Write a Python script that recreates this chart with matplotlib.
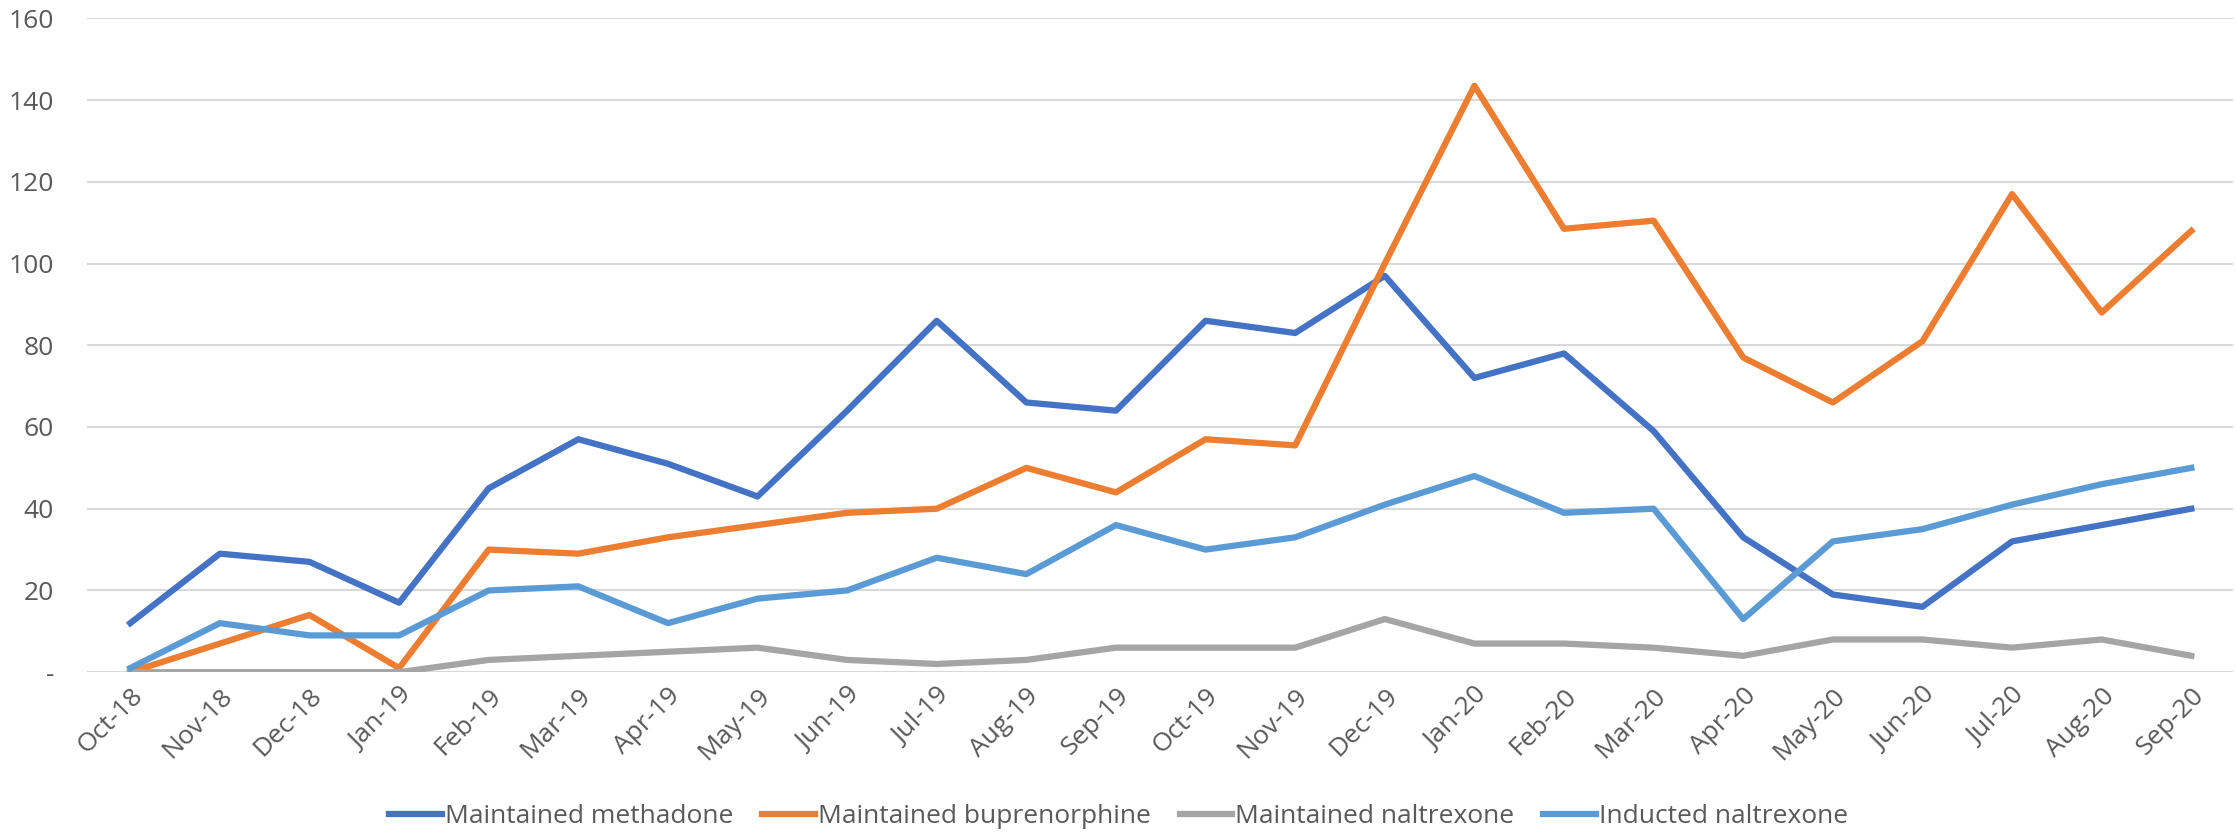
import matplotlib.pyplot as plt

# data
months = ['Oct-18', 'Nov-18', 'Dec-18', 'Jan-19', 'Feb-19', 'Mar-19', 'Apr-19', 'May-19',
          'Jun-19', 'Jul-19', 'Aug-19', 'Sep-19', 'Oct-19', 'Nov-19', 'Dec-19', 'Jan-20',
          'Feb-20', 'Mar-20', 'Apr-20', 'May-20', 'Jun-20', 'Jul-20', 'Aug-20', 'Sep-20']

methadone = [12, 29, 27, 17, 45, 57, 51, 43, 64, 86, 66, 64,
             86, 83, 97, 72, 78, 59, 33, 19, 16, 32, 36, 40]
buprenorphine = [0, 7, 14, 1, 30, 29, 33, 36, 39, 40, 50, 44,
                 57, 55.5, 100, 143.5, 108.5, 110.5, 77, 66, 81, 117, 88, 108]
naltrexone = [0, 0, 0, 0, 3, 4, 5, 6, 3, 2, 3, 6,
              6, 6, 13, 7, 7, 6, 4, 8, 8, 6, 8, 4]
inducted = [1, 12, 9, 9, 20, 21, 12, 18, 20, 28, 24, 36,
            30, 33, 41, 48, 39, 40, 13, 32, 35, 41, 46, 50]

series = [
    ('Maintained methadone', methadone, '#4472C4'),
    ('Maintained buprenorphine', buprenorphine, '#ED7D31'),
    ('Maintained naltrexone', naltrexone, '#A5A5A5'),
    ('Inducted naltrexone', inducted, '#5B9BD5'),
]

plt.rcParams['font.family'] = ['Open Sans', 'DejaVu Sans']

fig, ax = plt.subplots(figsize=(22.37, 8.35), dpi=100)
fig.subplots_adjust(left=0.039, right=0.998, top=0.978, bottom=0.195)

x = list(range(len(months)))
for name, vals, col in series:
    ax.plot(x, vals, color=col, linewidth=4.5, label=name)

ax.set_xlim(-0.48, len(months) - 0.54)
ax.set_ylim(0, 160)
yticks = [0, 20, 40, 60, 80, 100, 120, 140, 160]
ax.set_yticks(yticks)
ax.set_yticklabels(['-'] + [str(v) for v in yticks[1:]])
ax.set_xticks(x)
ax.set_xticklabels(months, rotation=45, ha='right', rotation_mode='anchor')

ax.grid(axis='y', color='#D9D9D9', linewidth=1.5)
ax.set_axisbelow(True)
for s in ax.spines.values():
    s.set_visible(False)
ax.tick_params(axis='both', length=0, labelsize=19, colors='#595959')
ax.tick_params(axis='y', pad=24)
ax.tick_params(axis='x', pad=8)

handles, labels = ax.get_legend_handles_labels()
leg = fig.legend(handles, labels, loc='center', bbox_to_anchor=(0.5, 0.022), ncol=4,
                 frameon=False, fontsize=19, handlelength=2.0, handletextpad=0.1,
                 columnspacing=1.1)
for t in leg.get_texts():
    t.set_color('#595959')

plt.savefig('out.png')
